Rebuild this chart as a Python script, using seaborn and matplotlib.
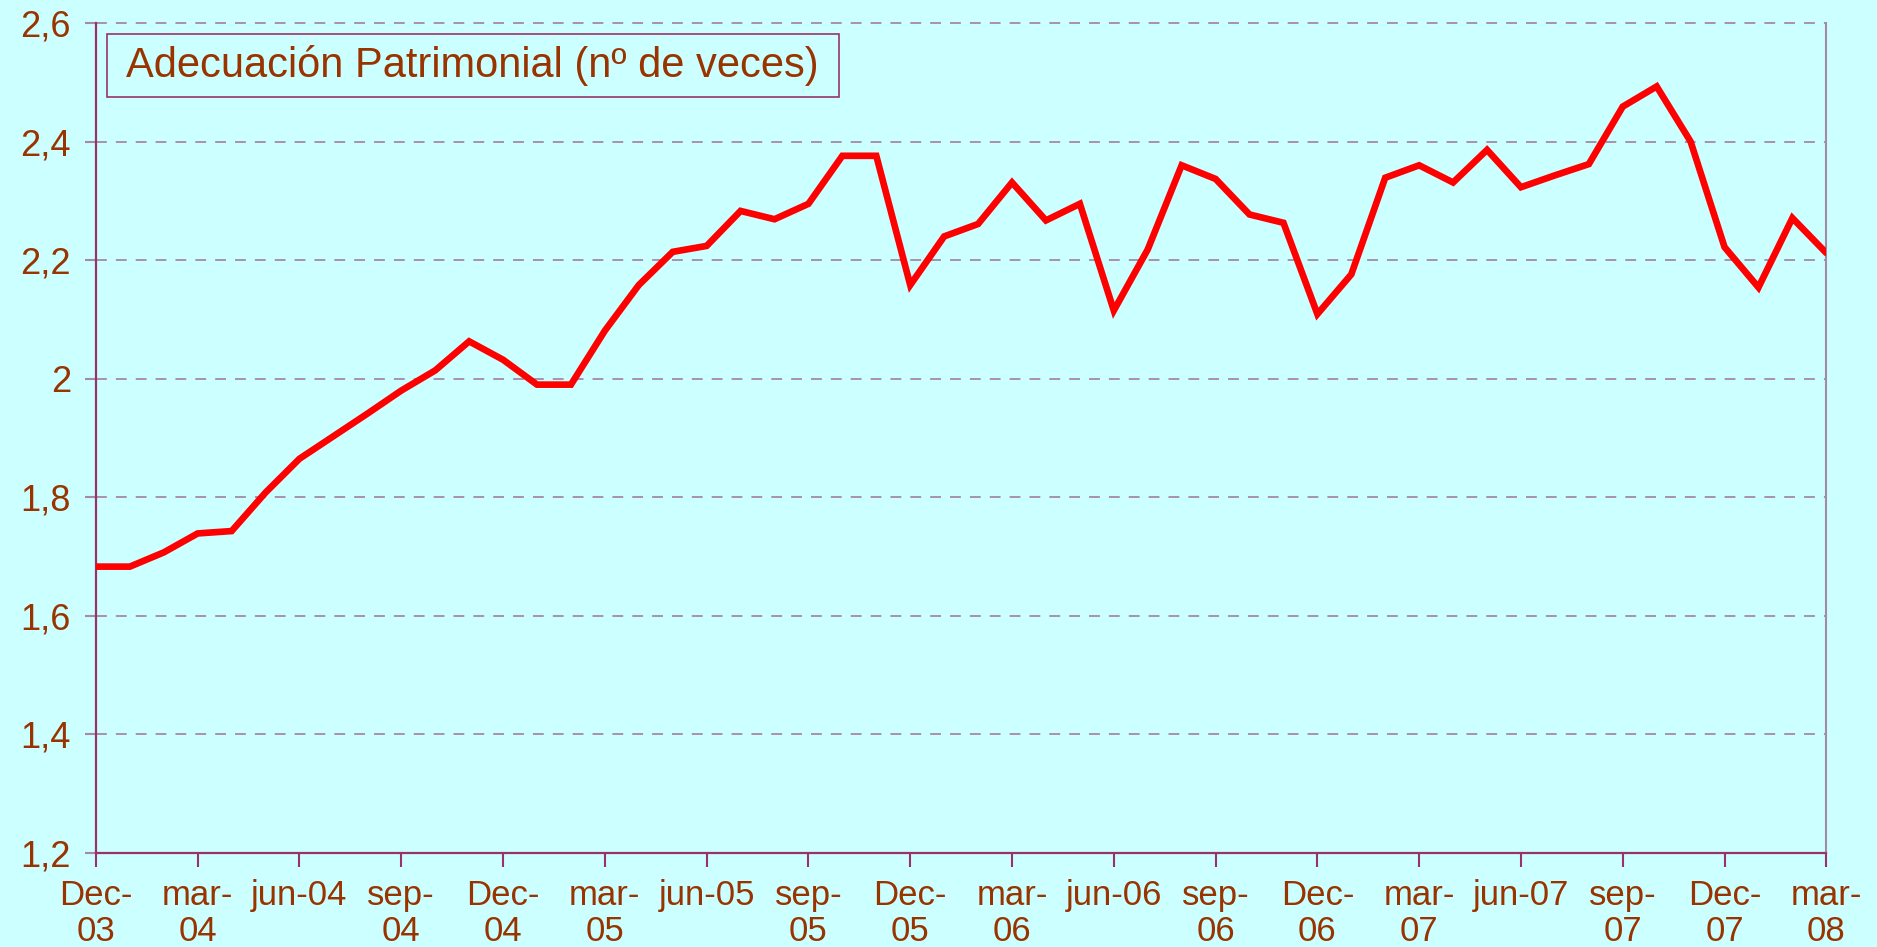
import matplotlib
matplotlib.use("Agg")
import matplotlib.pyplot as plt
from matplotlib.patches import Rectangle
import seaborn as sns
import pandas as pd

months = list(range(52))
values = [1.683, 1.683, 1.707, 1.739, 1.743, 1.808, 1.865, 1.903, 1.941, 1.980,
          2.014, 2.063, 2.032, 1.990, 1.990, 2.081, 2.158, 2.214, 2.224, 2.283,
          2.269, 2.295, 2.376, 2.376, 2.158, 2.240, 2.261, 2.331, 2.267, 2.295,
          2.115, 2.218, 2.360, 2.337, 2.277, 2.263, 2.109, 2.176, 2.339, 2.360,
          2.331, 2.386, 2.323, 2.343, 2.362, 2.459, 2.493, 2.400, 2.222, 2.154,
          2.271, 2.212]
tick_labels = ["Dec-\n03", "mar-\n04", "jun-04", "sep-\n04", "Dec-\n04", "mar-\n05",
               "jun-05", "sep-\n05", "Dec-\n05", "mar-\n06", "jun-06", "sep-\n06",
               "Dec-\n06", "mar-\n07", "jun-07", "sep-\n07", "Dec-\n07", "mar-\n08"]
y_ticks = [1.2, 1.4, 1.6, 1.8, 2.0, 2.2, 2.4, 2.6]
y_labels = ["1,2", "1,4", "1,6", "1,8", "2", "2,2", "2,4", "2,6"]
title = "Adecuación Patrimonial (nº de veces)"

bg = "#CCFFFF"
txt = "#993300"
axc = "#993366"
gridc = "#A58AA5"

sns.set_theme(style="white")
plt.rcParams["font.family"] = ["Liberation Sans", "DejaVu Sans"]

fig = plt.figure(figsize=(18.77, 9.47), dpi=100, facecolor=bg)
ax = fig.add_axes([0.0511, 0.0993, 0.9219, 0.8764])
ax.set_facecolor(bg)

df = pd.DataFrame({"m": months, "v": values})
sns.lineplot(data=df, x="m", y="v", ax=ax, color="#FF0000", linewidth=4.8,
             solid_joinstyle="miter", zorder=3)

ax.set_xlim(0, 51)
ax.set_ylim(1.2, 2.6)
ax.set_xticks(list(range(0, 52, 3)))
ax.set_xticklabels(tick_labels, fontsize=25, color=txt, linespacing=1.12)
ax.set_yticks(y_ticks)
ax.set_yticklabels(y_labels, fontsize=26, color=txt)
ax.set_xlabel("")
ax.set_ylabel("")

for y in y_ticks[1:]:
    ax.axhline(y, color=gridc, linestyle=(0, (6, 5)), linewidth=1.3, zorder=1,
               clip_on=False)

ax.spines["top"].set_visible(False)
ax.spines["right"].set_color(gridc)
ax.spines["right"].set_linewidth(1.5)
for s in ["left", "bottom"]:
    ax.spines[s].set_color(axc)
    ax.spines[s].set_linewidth(1.6)

ax.tick_params(axis="x", direction="out", length=10, width=1.5, color=axc, pad=9)
ax.tick_params(axis="y", direction="out", length=8, width=1.5, color=gridc, pad=10)
ax.tick_params(bottom=True, left=True)

ax.add_patch(Rectangle((0.0064, 0.9108), 0.4228, 0.0759, transform=ax.transAxes,
                       facecolor=bg, edgecolor=axc, linewidth=1.2, zorder=4))
ax.text(0.2178, 0.9487, title, transform=ax.transAxes, fontsize=30, color=txt,
        ha="center", va="center", zorder=5)

fig.savefig("out.png", dpi=100, facecolor=bg)
